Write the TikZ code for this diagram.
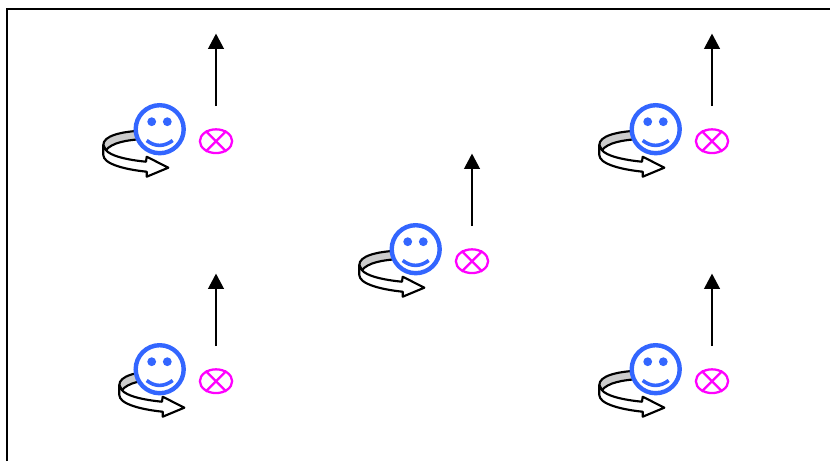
\documentclass[tikz,border=0pt]{standalone}
\usetikzlibrary{arrows.meta,shapes.geometric}
\definecolor{smileblue}{HTML}{3366FF}
\definecolor{crossmag}{HTML}{FF00FF}
\definecolor{bandgray}{HTML}{CCCCCC}
\tikzset{
  x=0.75pt,y=-0.75pt,
  frameline/.style={draw=black,line width=1.7pt},
  rotline/.style={draw=black,line width=1.6pt,line join=round},
  face/.style={circle,draw=smileblue,fill=white,line width=3.3pt,minimum size=36pt,inner sep=0pt},
  eye/.style={circle,fill=smileblue,minimum size=6.6pt,inner sep=0pt},
  mouth/.style={draw=smileblue,line width=2.7pt},
  crossnode/.style={ellipse,draw=crossmag,line width=1.7pt,minimum width=24.2pt,minimum height=17.8pt,inner sep=0pt},
  crossline/.style={draw=crossmag,line width=1.7pt},
  uparrow/.style={draw=black,line width=2.1pt,-{Triangle[length=11.5pt,width=11.5pt]}}
}
\newcommand{\spinunit}[4]{%
\begin{scope}[shift={(#2,#3)}]
  \begin{scope}[shift={(#4,0)}]
    \path[rotline,fill=bandgray] (-16,0.5) .. controls (-40,1.5) and (-56.7,6) .. (-56.7,15)
      .. controls (-56.7,17) .. (-54,20) .. controls (-48,13) and (-35,10) .. (-16,9) -- cycle;
    \path[rotline,fill=white] (-56.7,15) -- (-56.7,25) .. controls (-56.7,34) and (-35,39.5) .. (-13.3,41.7)
      -- (-13.3,46.7) -- (8.3,37.7) -- (-13.3,26.7) -- (-14,31.7)
      .. controls (-32,30) and (-50,26) .. (-54,20) .. controls (-56,18) .. (-56.7,15) -- cycle;
  \end{scope}
  \node[face] (#1face) at (-0.3,-0.8) {};
  \node[eye] (#1eyeL) at (-8.3,-8.3) {};
  \node[eye] (#1eyeR) at (7.3,-8.3) {};
  \coordinate (#1mouthL) at (-13.3,10.5);
  \coordinate (#1mouthR) at (12.7,10.5);
  \draw[mouth] (#1mouthL) .. controls (-5,17) and (4,17) .. (#1mouthR);
  \node[crossnode] (#1cross) at (56,11.2) {};
  \draw[crossline] (#1cross.45) -- (#1cross.225);
  \draw[crossline] (#1cross.135) -- (#1cross.315);
  \coordinate (#1from) at (56,-24);
  \coordinate (#1to) at (56,-96.5);
  \draw[uparrow] (#1from) -- (#1to);
\end{scope}}
\begin{document}
\begin{tikzpicture}
  \useasboundingbox (0,0) rectangle (830,461);
  \coordinate (frameA) at (7.2,461);
  \coordinate (frameB) at (7.2,9.3);
  \coordinate (frameC) at (830,9.3);
  \draw[frameline] (frameA) -- (frameB) -- (frameC);
  \spinunit{a}{160}{130}{0}
  \spinunit{b}{656}{130}{0}
  \spinunit{c}{416}{250}{0}
  \spinunit{d}{160}{370}{16}
  \spinunit{e}{656}{370}{0}
\end{tikzpicture}
\end{document}
